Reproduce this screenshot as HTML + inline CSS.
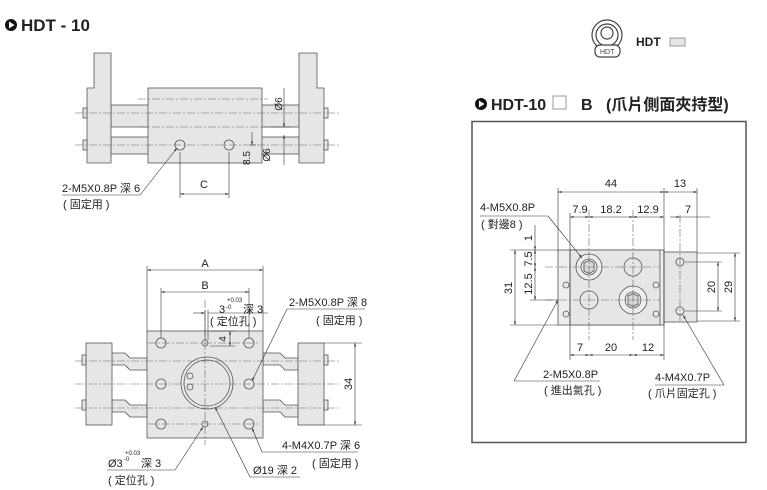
<!DOCTYPE html>
<html><head><meta charset="utf-8"><style>
body{margin:0;background:#fff;}
svg{display:block;font-family:"Liberation Sans","Noto Sans CJK TC",sans-serif;}
</style></head><body>
<svg width="767" height="490" viewBox="0 0 767 490" xmlns="http://www.w3.org/2000/svg">
<defs>
<marker id="a" viewBox="0 0 10 10" refX="10" refY="5" markerWidth="6" markerHeight="6" orient="auto-start-reverse"><path d="M0,2L10,5L0,8z" fill="#333"/></marker>
</defs>
<circle cx="11" cy="25" r="6" fill="#111"/><path d="M9,21.5L14.5,25L9,28.5z" fill="#fff"/>
<text x="21" y="31" font-size="17" font-weight="bold" fill="#222">HDT - 10</text>

<g stroke="#444" fill="none" stroke-width="1.2">
<circle cx="607" cy="35" r="15"/><circle cx="607" cy="35" r="11"/><circle cx="607" cy="33" r="6"/>
<rect x="595" y="45" width="25" height="12" rx="5" fill="#fff"/>
</g>
<text x="600" y="54" font-size="7" fill="#444">HDT</text>
<text x="636" y="46" font-size="12" font-weight="bold" fill="#222">HDT</text>
<rect x="670" y="38" width="15" height="8" fill="#e6e6e6" stroke="#999"/>

<circle cx="481" cy="104" r="6" fill="#111"/><path d="M479,100.5L484.5,104L479,107.5z" fill="#fff"/>
<text x="491" y="110" font-size="16" font-weight="bold" fill="#222">HDT-10</text>
<rect x="553" y="96" width="13" height="13" fill="#fff" stroke="#999"/>
<text x="581" y="110" font-size="16" font-weight="bold" fill="#222">B</text>
<text x="606" y="110" font-size="16" font-weight="bold" fill="#222">(爪片側面夾持型)</text>
<rect x="472" y="121.5" width="274" height="321" fill="none" stroke="#555" stroke-width="1.5"/>

<g stroke="#555" stroke-width="0.8" fill="#e6e6e6">
<rect x="111" y="105" width="188" height="22"/>
<rect x="111" y="137" width="188" height="17"/>
<path d="M94,53H111V163H87V88H94Z"/>
<path d="M299,53H317V88H324V163H299Z"/>
<rect x="83" y="108" width="4" height="10"/><rect x="83" y="140" width="4" height="10"/>
<rect x="324" y="108" width="4" height="10"/><rect x="324" y="140" width="4" height="10"/>
<rect x="148" y="88" width="114" height="75"/>
<circle cx="180" cy="145" r="5"/><circle cx="229" cy="145" r="5"/>
</g>
<g stroke="#666" stroke-width="0.6" stroke-dasharray="8,2,2,2" fill="none">
<line x1="75" y1="113" x2="340" y2="113"/><line x1="75" y1="145" x2="340" y2="145"/>
<line x1="138" y1="99" x2="268" y2="99"/><line x1="138" y1="127" x2="268" y2="127"/>
</g>
<g stroke="#333" stroke-width="0.6" fill="none">
<line x1="180" y1="152" x2="180" y2="198"/><line x1="229" y1="152" x2="229" y2="198"/>
<line x1="180" y1="194" x2="229" y2="194" marker-start="url(#a)" marker-end="url(#a)"/>
<line x1="284" y1="88" x2="284" y2="127" marker-end="url(#a)"/>
<line x1="284" y1="135" x2="284" y2="165" marker-start="url(#a)"/>
<line x1="270" y1="127" x2="290" y2="127"/>
<line x1="250" y1="145" x2="256" y2="145"/>
<line x1="252" y1="132" x2="252" y2="145" marker-end="url(#a)"/>
<line x1="62" y1="195" x2="140" y2="195"/><line x1="140" y1="195" x2="177" y2="148" marker-end="url(#a)"/>
</g>
<text x="204" y="188" font-size="11" text-anchor="middle" fill="#222">C</text>
<text transform="translate(282,104) rotate(-90)" font-size="10" text-anchor="middle" fill="#222">Ø6</text>
<text transform="translate(270,155) rotate(-90)" font-size="10" text-anchor="middle" fill="#222">Ø6</text>
<text transform="translate(250,158) rotate(-90)" font-size="10" text-anchor="middle" fill="#222">8.5</text>
<text x="62" y="192" font-size="11" fill="#222">2-M5X0.8P 深 6</text>
<text x="63" y="208" font-size="11" fill="#222">( 固定用 )</text>

<g stroke="#555" stroke-width="0.8" fill="#e6e6e6">
<path d="M112,353H125L130,358H147V370H130L125,365H112Z"/>
<path d="M112,400H125L130,405H147V417H130L125,412H112Z"/>
<path d="M263,353H280L285,358H298V370H285L280,365H263Z"/>
<path d="M263,400H280L285,405H298V417H285L280,412H263Z"/>
<rect x="86" y="343" width="26" height="82"/>
<rect x="298" y="343" width="26" height="82"/>
<rect x="82" y="355" width="4" height="10"/><rect x="82" y="400" width="4" height="10"/>
<rect x="324" y="355" width="4" height="10"/><rect x="324" y="400" width="4" height="10"/>
<rect x="147" y="331" width="116" height="107"/>
<circle cx="207" cy="383" r="26" fill="#eaeaea"/><circle cx="207" cy="383" r="23"/>
<circle cx="161" cy="343" r="5"/><circle cx="249" cy="343" r="5"/>
<circle cx="161" cy="384" r="5"/><circle cx="249" cy="384" r="5"/>
<circle cx="161" cy="424" r="5"/><circle cx="249" cy="424" r="5"/>
<circle cx="205" cy="343" r="3"/><circle cx="205" cy="424" r="3"/>
<circle cx="190" cy="376" r="3"/><circle cx="190" cy="387" r="3"/>
</g>
<g stroke="#666" stroke-width="0.6" stroke-dasharray="8,2,2,2" fill="none">
<line x1="75" y1="361" x2="340" y2="361"/><line x1="75" y1="408" x2="340" y2="408"/>
<line x1="75" y1="384" x2="340" y2="384"/>
<line x1="205" y1="300" x2="205" y2="445"/>
<line x1="148" y1="343" x2="260" y2="343"/><line x1="148" y1="424" x2="260" y2="424"/>
</g>
<g stroke="#333" stroke-width="0.6" fill="none">
<line x1="147" y1="266" x2="147" y2="331"/><line x1="263" y1="266" x2="263" y2="331"/>
<line x1="147" y1="270" x2="263" y2="270" marker-start="url(#a)" marker-end="url(#a)"/>
<line x1="161" y1="288" x2="161" y2="338"/><line x1="249" y1="288" x2="249" y2="338"/>
<line x1="161" y1="292" x2="249" y2="292" marker-start="url(#a)" marker-end="url(#a)"/>
<line x1="205" y1="310" x2="205" y2="340"/><line x1="208" y1="310" x2="208" y2="340"/>
<line x1="193" y1="313" x2="205" y2="313" marker-end="url(#a)"/>
<line x1="208" y1="313" x2="268" y2="313"/>
<line x1="210" y1="331" x2="235" y2="331"/><line x1="210" y1="346" x2="235" y2="346"/>
<line x1="230" y1="331" x2="230" y2="346" marker-start="url(#a)" marker-end="url(#a)"/>
<line x1="324" y1="343" x2="362" y2="343"/><line x1="324" y1="425" x2="362" y2="425"/>
<line x1="355" y1="343" x2="355" y2="425" marker-start="url(#a)" marker-end="url(#a)"/>
<line x1="365" y1="309" x2="287" y2="309"/><line x1="287" y1="309" x2="252" y2="381" marker-end="url(#a)"/>
<line x1="358" y1="452" x2="262" y2="452"/><line x1="262" y1="452" x2="252" y2="428" marker-end="url(#a)"/>
<line x1="107" y1="470" x2="175" y2="470"/><line x1="175" y1="470" x2="203" y2="427" marker-end="url(#a)"/>
<line x1="300" y1="477" x2="250" y2="477"/><line x1="250" y1="477" x2="215" y2="407" marker-end="url(#a)"/>
</g>
<text x="205" y="267" font-size="11" text-anchor="middle" fill="#222">A</text>
<text x="205" y="289" font-size="11" text-anchor="middle" fill="#222">B</text>
<text x="219" y="313" font-size="11" fill="#222">3</text>
<text x="227" y="302" font-size="6" fill="#222">+0.03</text>
<text x="226" y="309" font-size="6" fill="#222">-0</text>
<text x="243" y="313" font-size="11" fill="#222">深 3</text>
<text x="210" y="325" font-size="11" fill="#222">( 定位孔 )</text>
<text transform="translate(226,339) rotate(-90)" font-size="10" text-anchor="middle" fill="#222">4</text>
<text transform="translate(352,384) rotate(-90)" font-size="11" text-anchor="middle" fill="#222">34</text>
<text x="289" y="306" font-size="11" fill="#222">2-M5X0.8P 深 8</text>
<text x="316" y="324" font-size="11" fill="#222">( 固定用 )</text>
<text x="282" y="449" font-size="11" fill="#222">4-M4X0.7P 深 6</text>
<text x="312" y="467" font-size="11" fill="#222">( 固定用 )</text>
<text x="108" y="467" font-size="11" fill="#222">Ø3</text>
<text x="125" y="455" font-size="6" fill="#222">+0.03</text>
<text x="124" y="461" font-size="6" fill="#222">-0</text>
<text x="141" y="467" font-size="11" fill="#222">深 3</text>
<text x="108" y="484" font-size="11" fill="#222">( 定位孔 )</text>
<text x="253" y="474" font-size="11" fill="#222">Ø19 深 2</text>

<g stroke="#555" stroke-width="0.8" fill="#e6e6e6">
<rect x="558" y="250" width="106" height="75" fill="#eeeeee"/>
<rect x="570" y="250" width="90" height="75"/>
<rect x="664" y="252" width="33" height="70"/>
<circle cx="589" cy="267" r="13" fill="#eeeeee"/><circle cx="589" cy="267" r="8"/>
<path d="M584,263L589,260.5L594,263V271L589,273.5L584,271Z" fill="#d8d8d8"/>
<circle cx="633" cy="267" r="9"/><circle cx="589" cy="300" r="9"/>
<circle cx="633" cy="300" r="14" fill="#eeeeee"/><circle cx="633" cy="300" r="8"/>
<path d="M628,296L633,293.5L638,296V304L633,306.5L628,304Z" fill="#d8d8d8"/>
<circle cx="680" cy="262" r="4"/><circle cx="680" cy="311" r="4"/>
<circle cx="566" cy="285" r="3"/><circle cx="566" cy="314" r="3"/>
<circle cx="656" cy="285" r="3"/><circle cx="656" cy="314" r="3"/>
</g>
<g stroke="#666" stroke-width="0.6" stroke-dasharray="8,2,2,2" fill="none">
<line x1="545" y1="267" x2="660" y2="267"/><line x1="545" y1="300" x2="660" y2="300"/>
<line x1="589" y1="210" x2="589" y2="340"/><line x1="633" y1="210" x2="633" y2="340"/>
<line x1="680" y1="215" x2="680" y2="322"/>
</g>
<g stroke="#333" stroke-width="0.6" fill="none">
<line x1="558" y1="188" x2="558" y2="250"/><line x1="664" y1="188" x2="664" y2="360"/><line x1="697" y1="188" x2="697" y2="252"/>
<line x1="558" y1="192" x2="664" y2="192" marker-start="url(#a)" marker-end="url(#a)"/>
<line x1="664" y1="192" x2="697" y2="192" marker-start="url(#a)" marker-end="url(#a)"/>
<line x1="570" y1="213" x2="570" y2="360"/>
<line x1="570" y1="217" x2="589" y2="217" marker-start="url(#a)" marker-end="url(#a)"/>
<line x1="589" y1="217" x2="633" y2="217" marker-start="url(#a)" marker-end="url(#a)"/>
<line x1="633" y1="217" x2="664" y2="217" marker-start="url(#a)" marker-end="url(#a)"/>
<line x1="670" y1="217" x2="680" y2="217" marker-end="url(#a)"/><line x1="710" y1="217" x2="680" y2="217"/>
<line x1="510" y1="250" x2="558" y2="250"/><line x1="510" y1="325" x2="558" y2="325"/>
<line x1="515" y1="250" x2="515" y2="325" marker-start="url(#a)" marker-end="url(#a)"/>
<line x1="535" y1="225" x2="535" y2="250" marker-end="url(#a)"/>
<line x1="535" y1="250" x2="535" y2="267" marker-start="url(#a)" marker-end="url(#a)"/>
<line x1="535" y1="267" x2="535" y2="300" marker-start="url(#a)" marker-end="url(#a)"/>
<line x1="530" y1="300" x2="558" y2="300"/>
<line x1="697" y1="253" x2="740" y2="253"/><line x1="697" y1="321" x2="740" y2="321"/>
<line x1="685" y1="262" x2="722" y2="262"/><line x1="685" y1="311" x2="722" y2="311"/>
<line x1="735" y1="253" x2="735" y2="321" marker-start="url(#a)" marker-end="url(#a)"/>
<line x1="718" y1="262" x2="718" y2="311" marker-start="url(#a)" marker-end="url(#a)"/>
<line x1="570" y1="355" x2="589" y2="355" marker-start="url(#a)" marker-end="url(#a)"/>
<line x1="589" y1="355" x2="633" y2="355" marker-start="url(#a)" marker-end="url(#a)"/>
<line x1="633" y1="355" x2="664" y2="355" marker-start="url(#a)" marker-end="url(#a)"/>
<line x1="480" y1="216" x2="548" y2="216"/><line x1="548" y1="216" x2="582" y2="258" marker-end="url(#a)"/>
<line x1="600" y1="381" x2="514" y2="381"/><line x1="514" y1="381" x2="558" y2="300" marker-end="url(#a)"/>
<line x1="655" y1="385" x2="724" y2="385"/><line x1="724" y1="385" x2="683" y2="315" marker-end="url(#a)"/>
</g>
<g font-size="11" fill="#222" text-anchor="middle">
<text x="611" y="187">44</text><text x="680" y="187">13</text>
<text x="580" y="213">7.9</text><text x="611" y="213">18.2</text><text x="648" y="213">12.9</text><text x="688" y="213">7</text>
<text x="580" y="351">7</text><text x="611" y="351">20</text><text x="648" y="351">12</text>
<text transform="translate(512,288) rotate(-90)">31</text>
<text transform="translate(532,238) rotate(-90)">1</text>
<text transform="translate(532,259) rotate(-90)">7.5</text>
<text transform="translate(532,284) rotate(-90)">12.5</text>
<text transform="translate(715,287) rotate(-90)">20</text>
<text transform="translate(732,287) rotate(-90)">29</text>
</g>
<text x="480" y="211" font-size="11" fill="#222">4-M5X0.8P</text>
<text x="481" y="228" font-size="11" fill="#222">( 對邊8 )</text>
<text x="543" y="378" font-size="11" fill="#222">2-M5X0.8P</text>
<text x="544" y="394" font-size="11" fill="#222">( 進出氣孔 )</text>
<text x="655" y="381" font-size="11" fill="#222">4-M4X0.7P</text>
<text x="648" y="397" font-size="11" fill="#222">( 爪片固定孔 )</text>
</svg>
</body></html>
